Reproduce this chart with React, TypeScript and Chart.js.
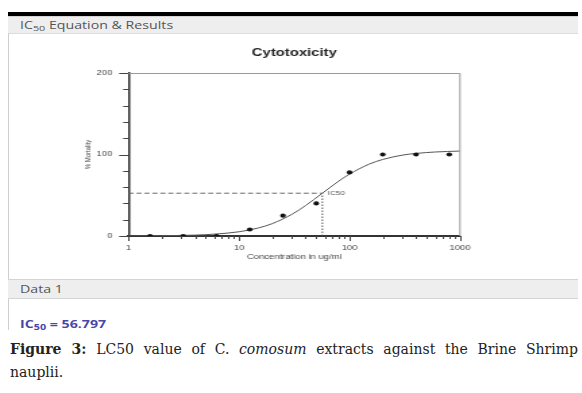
import React, { useEffect, useRef } from 'react';
import { Chart, registerables } from 'chart.js';

Chart.register(...registerables);

// ---- data ----
const concentrations = [1.5625, 3.125, 6.25, 12.5, 25, 50, 100, 200, 400, 800];
const mortality = [0, 0, 0, 8, 25, 40, 78, 100, 100, 100];

const curveConc = [1, 2, 4, 6, 10, 15, 20, 30, 40, 56.797, 80, 100, 150, 200, 300, 400, 600, 1000];
const curveMortality = [0.1, 0.4, 1.1, 2.3, 5.2, 9.9, 15.2, 26.5, 37.3, 52.5, 67.4, 75.9, 88.1, 93.9, 99.2, 101.3, 103.1, 104.2];

const IC50 = 56.797;
const halfResponse = 52.5;

const xTickValues = [1, 2, 3, 4, 5, 6, 7, 8, 9, 10, 20, 30, 40, 50, 60, 70, 80, 90, 100, 200, 300, 400, 500, 600, 700, 800, 900, 1000];
const xTickLabels = ['1', '10', '100', '1000'];
const yTickValues = [0, 20, 40, 60, 80, 100, 120, 140, 160, 180, 200];
const yTickLabels = ['0', '100', '200'];

const chartTitle = 'Cytotoxicity';
const xTitle = 'Concentration in ug/ml';
const yTitle = '% Mortality';
const ic50Label = 'IC50';

// ---- geometry ----
const S = 1.35; // horizontal stretch of the figure
const CW = 422;
const CH = 245;
const SANS = '"Liberation Sans", Arial, sans-serif';

const customDraw = {
  id: 'customDraw',
  afterDatasetsDraw(chart: any) {
    const { ctx, chartArea, scales } = chart;
    const xs = scales.x;
    const ys = scales.y;
    ctx.save();
    ctx.strokeStyle = '#444';
    ctx.lineWidth = 1;
    ys.ticks.forEach((t: any) => {
      const py = Math.round(ys.getPixelForValue(t.value)) + 0.5;
      const major = yTickLabels.includes(String(t.value));
      const len = major ? 7 : 4;
      ctx.beginPath();
      ctx.moveTo(chartArea.left - len, py);
      ctx.lineTo(chartArea.left, py);
      ctx.stroke();
    });
    xs.ticks.forEach((t: any) => {
      const px = Math.round(xs.getPixelForValue(t.value)) + 0.5;
      const major = xTickLabels.includes(String(t.value));
      const len = major ? 5 : 3;
      ctx.beginPath();
      ctx.moveTo(px, chartArea.bottom);
      ctx.lineTo(px, chartArea.bottom + len);
      ctx.stroke();
    });
    ctx.strokeStyle = '#9a9a9a';
    ctx.lineWidth = 1;
    ctx.beginPath();
    ctx.moveTo(chartArea.left, Math.round(chartArea.top) + 0.5);
    ctx.lineTo(chartArea.right, Math.round(chartArea.top) + 0.5);
    ctx.lineTo(chartArea.right, chartArea.bottom);
    ctx.stroke();
    ctx.fillStyle = '#555';
    ctx.font = `6px ${SANS}`;
    ctx.textBaseline = 'middle';
    ctx.textAlign = 'left';
    ctx.fillText(ic50Label, xs.getPixelForValue(IC50) + 4, ys.getPixelForValue(halfResponse));
    ctx.restore();
  },
};

function CytoChart() {
  const ref = useRef<HTMLCanvasElement | null>(null);
  useEffect(() => {
    if (!ref.current) return;
    const chart = new Chart(ref.current, {
      type: 'scatter',
      data: {
        datasets: [
          {
            label: 'Data',
            data: concentrations.map((c, i) => ({ x: c, y: mortality[i] })),
            showLine: false,
            pointRadius: 2.1,
            pointBackgroundColor: '#111',
            pointBorderWidth: 0,
            pointBorderColor: '#111',
          },
          {
            label: 'Fit',
            data: curveConc.map((c, i) => ({ x: c, y: curveMortality[i] })),
            showLine: true,
            borderColor: '#555',
            borderWidth: 1,
            pointRadius: 0,
            cubicInterpolationMode: 'monotone',
          },
          {
            label: 'IC50 h',
            data: [
              { x: 1, y: halfResponse },
              { x: IC50, y: halfResponse },
            ],
            showLine: true,
            borderColor: '#666',
            borderWidth: 1,
            borderDash: [3.7, 2.2],
            pointRadius: 0,
          },
          {
            label: 'IC50 v',
            data: [
              { x: IC50, y: 0 },
              { x: IC50, y: halfResponse },
            ],
            showLine: true,
            borderColor: '#555',
            borderWidth: 1,
            borderDash: [1.5, 1.5],
            pointRadius: 0,
          },
        ],
      },
      options: {
        animation: false,
        responsive: true,
        maintainAspectRatio: false,
        devicePixelRatio: 1,
        layout: { padding: { left: 52, right: 87.2, top: 0, bottom: 15 } },
        plugins: {
          legend: { display: false },
          tooltip: { enabled: false },
          title: {
            display: true,
            text: chartTitle,
            fullSize: false,
            color: '#222',
            font: { family: SANS, size: 11, weight: 'bold', lineHeight: 1.2 },
            padding: { top: 12.5, bottom: 13.3 },
          },
        },
        scales: {
          x: {
            type: 'logarithmic',
            min: 1,
            max: 1000,
            afterBuildTicks: (scale: any) => {
              scale.ticks = xTickValues.map((v) => ({ value: v }));
            },
            afterFit: (scale: any) => {
              scale.height = 28;
            },
            ticks: {
              autoSkip: false,
              maxRotation: 0,
              padding: 2.5,
              color: '#444',
              font: { family: SANS, size: 7 },
              callback: (v: any) => (xTickLabels.includes(String(v)) ? String(v) : ''),
            },
            grid: {
              display: true,
              drawOnChartArea: false,
              drawTicks: true,
              tickLength: 5,
              tickColor: 'rgba(0,0,0,0)',
              color: 'rgba(0,0,0,0)',
            },
            border: { display: true, color: '#333', width: 2 },
            title: {
              display: true,
              text: xTitle,
              color: '#444',
              font: { family: SANS, size: 7, lineHeight: 1.2 },
              padding: { top: 0, bottom: 3 },
            },
          },
          y: {
            type: 'linear',
            min: 0,
            max: 200,
            afterBuildTicks: (scale: any) => {
              scale.ticks = yTickValues.map((v) => ({ value: v }));
            },
            afterFit: (scale: any) => {
              scale.width = 37.3;
            },
            ticks: {
              autoSkip: false,
              padding: 5,
              color: '#444',
              font: { family: SANS, size: 7 },
              callback: (v: any) => (yTickLabels.includes(String(v)) ? String(v) : ''),
            },
            grid: {
              display: true,
              drawOnChartArea: false,
              drawTicks: true,
              tickLength: 7,
              tickColor: 'rgba(0,0,0,0)',
              color: 'rgba(0,0,0,0)',
            },
            border: { display: true, color: '#333', width: 1.5 },
            title: {
              display: true,
              text: yTitle,
              color: '#444',
              font: { family: SANS, size: 6, lineHeight: 1.2 },
              padding: { top: 3.7, bottom: 0 },
            },
          },
        },
      },
      plugins: [customDraw],
    } as any);
    return () => chart.destroy();
  }, []);
  return (
    <div
      style={{
        position: 'absolute',
        left: 8,
        top: 34,
        width: CW,
        height: CH,
        transform: `scaleX(${S})`,
        transformOrigin: '0 0',
      }}
    >
      <div style={{ position: 'relative', width: CW, height: CH }}>
        <canvas ref={ref} />
      </div>
    </div>
  );
}

const stretch: React.CSSProperties = {
  display: 'inline-block',
  transform: `scaleX(${S})`,
  transformOrigin: '0 50%',
  whiteSpace: 'nowrap',
};

export default function App() {
  const uiFont = '"Open Sans", "Noto Sans", sans-serif';
  return (
    <div
      style={{
        position: 'absolute',
        left: 0,
        top: 0,
        width: 582,
        height: 393,
        background: '#fff',
        overflow: 'hidden',
      }}
    >
      <div style={{ position: 'absolute', left: 8, top: 12, width: 570, height: 4, background: '#000' }} />
      <div
        style={{
          position: 'absolute',
          left: 8,
          top: 16,
          width: 570,
          height: 18,
          background: '#eeeeee',
          borderTop: '1px solid #d4d4d4',
          borderBottom: '1px solid #dcdcdc',
          boxSizing: 'border-box',
          fontFamily: uiFont,
          fontSize: 10.5,
          color: '#555',
          lineHeight: '16px',
          paddingLeft: 12,
        }}
      >
        <span style={stretch}>
          IC<sub style={{ fontSize: 8, verticalAlign: -2 }}>50</sub> Equation &amp; Results
        </span>
      </div>
      <div style={{ position: 'absolute', left: 8, top: 33, width: 1, height: 297, background: '#cfcfcf' }} />
      <CytoChart />
      <div
        style={{
          position: 'absolute',
          left: 8,
          top: 279,
          width: 570,
          height: 20,
          background: '#eeeeee',
          borderTop: '1px solid #d4d4d4',
          borderBottom: '1px solid #d4d4d4',
          boxSizing: 'border-box',
          fontFamily: uiFont,
          fontSize: 10.5,
          color: '#555',
          lineHeight: '18px',
          paddingLeft: 12,
        }}
      >
        <span style={stretch}>Data 1</span>
      </div>
      <div
        style={{
          position: 'absolute',
          left: 20,
          top: 316,
          fontFamily: uiFont,
          fontSize: 10.5,
          fontWeight: 'bold',
          color: '#4747a8',
          lineHeight: '16px',
          whiteSpace: 'nowrap',
        }}
      >
        <span style={stretch}>
          IC<sub style={{ fontSize: 8, verticalAlign: -2 }}>50</sub> = 56.797
        </span>
      </div>
      <div
        style={{
          position: 'absolute',
          left: 10,
          top: 338,
          width: 568,
          fontFamily: '"DejaVu Serif", serif',
          fontSize: 14,
          lineHeight: '23px',
          color: '#222',
          textAlign: 'justify',
        }}
      >
        <b>Figure 3:</b> LC50 value of C. <i>comosum</i> extracts against the Brine Shrimp nauplii.
      </div>
    </div>
  );
}
